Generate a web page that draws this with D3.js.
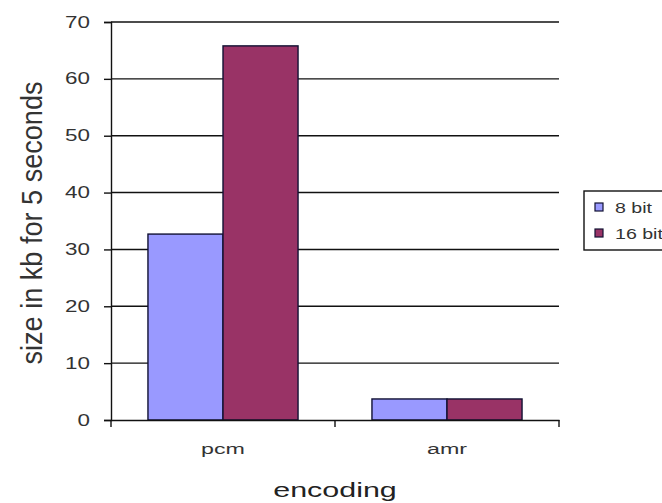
<!DOCTYPE html>
<html>
<head>
<meta charset="utf-8">
<script src="https://d3js.org/d3.v7.min.js"></script>
<style>
  body { margin: 0; background: #fff; }
  text { font-family: "Liberation Sans", Arial, sans-serif; fill: #333; }
</style>
</head>
<body>
<div id="chart"></div>
<script>
// chart data
var categories = ["pcm", "amr"];
var seriesNames = ["8 bit", "16 bit"];
var bits8 = [32.7, 3.7];
var bits16 = [65.8, 3.7];
var yTicks = [0, 10, 20, 30, 40, 50, 60, 70];
var colors = ["#9999ff", "#993366"];

var svgWidth = 662;
var svgHeight = 503;

// the text in the original looks stretched sideways
var stretch = 1.4;

var margin = { top: 22, right: 103, bottom: 83, left: 111 };
var width = svgWidth - margin.left - margin.right;
var height = svgHeight - margin.top - margin.bottom;

var svg = d3.select("#chart")
  .append("svg")
  .attr("width", svgWidth)
  .attr("height", svgHeight);

var chartGroup = svg.append("g")
  .attr("transform", `translate(${margin.left}, ${margin.top})`);

var xScale = d3.scaleBand()
  .domain(categories)
  .range([0, width])
  .paddingInner(0.33)
  .paddingOuter(0.165);

var subScale = d3.scaleBand()
  .domain(seriesNames)
  .range([0, xScale.bandwidth()]);

var yScale = d3.scaleLinear()
  .domain([0, 70])
  .range([height, 0]);

// gridlines
chartGroup.append("g")
  .selectAll("line")
  .data(yTicks.slice(1))
  .enter()
  .append("line")
  .attr("x1", 0)
  .attr("x2", width)
  .attr("y1", d => yScale(d))
  .attr("y2", d => yScale(d))
  .attr("stroke", "#111")
  .attr("stroke-width", 1.4);

// bars
var data = categories.map((c, i) => ({ cat: c, values: [bits8[i], bits16[i]] }));

var groups = chartGroup.selectAll(".grp")
  .data(data)
  .enter()
  .append("g")
  .attr("transform", d => `translate(${xScale(d.cat)}, 0)`);

groups.selectAll("rect")
  .data(d => d.values.map((v, j) => ({ name: seriesNames[j], value: v, idx: j })))
  .enter()
  .append("rect")
  .attr("x", d => subScale(d.name))
  .attr("y", d => yScale(d.value))
  .attr("width", subScale.bandwidth())
  .attr("height", d => height - yScale(d.value))
  .attr("fill", d => colors[d.idx])
  .attr("stroke", "#111133")
  .attr("stroke-width", 1.4);

// y axis
var leftAxis = d3.axisLeft(yScale)
  .tickValues(yTicks)
  .tickSize(7)
  .tickFormat(d3.format("d"));

var yAxis = chartGroup.append("g").call(leftAxis);
yAxis.select(".domain").attr("stroke", "#111").attr("stroke-width", 1.4);
yAxis.selectAll(".tick line").attr("stroke", "#111").attr("stroke-width", 1.4);
yAxis.selectAll("text")
  .attr("x", -21 / stretch)
  .attr("transform", `scale(${stretch}, 1)`)
  .style("font-size", "16px")
  .style("fill", "#333")
  .style("font-family", "Liberation Sans, Arial, sans-serif");

// x axis
var bottomAxis = d3.axisBottom(xScale)
  .tickSize(0);

var xAxis = chartGroup.append("g")
  .attr("transform", `translate(0, ${height})`)
  .call(bottomAxis);
xAxis.select(".domain").attr("stroke", "#111").attr("stroke-width", 1.4);
xAxis.selectAll("text")
  .attr("dy", null)
  .attr("y", 34)
  .attr("transform", `scale(${stretch + 0.15}, 1)`)
  .style("font-size", "15px")
  .style("fill", "#333")
  .style("font-family", "Liberation Sans, Arial, sans-serif");

// category boundary ticks
var bounds = [0, (xScale(categories[0]) + xScale.bandwidth() + xScale(categories[1])) / 2, width];
xAxis.selectAll(".bound")
  .data(bounds)
  .enter()
  .append("line")
  .attr("x1", d => d)
  .attr("x2", d => d)
  .attr("y1", 0)
  .attr("y2", 7)
  .attr("stroke", "#111")
  .attr("stroke-width", 1.4);

// axis titles
svg.append("text")
  .attr("transform", `translate(${margin.left + width / 2}, 497) scale(1.45, 1)`)
  .attr("text-anchor", "middle")
  .style("font-size", "21px")
  .style("fill", "#222")
  .text("encoding");

svg.append("text")
  .attr("transform", "translate(42, 223) rotate(-90) scale(1, 1.3)")
  .attr("text-anchor", "middle")
  .attr("textLength", 283)
  .attr("lengthAdjust", "spacingAndGlyphs")
  .style("font-size", "23px")
  .text("size in kb for 5 seconds");

// legend
var legend = svg.append("g")
  .attr("transform", "translate(584, 191)");

legend.append("rect")
  .attr("width", 90)
  .attr("height", 59)
  .attr("fill", "#fff")
  .attr("stroke", "#111")
  .attr("stroke-width", 1.4);

var items = legend.selectAll(".item")
  .data(seriesNames)
  .enter()
  .append("g")
  .attr("transform", (d, i) => `translate(11, ${12 + i * 26})`);

items.append("rect")
  .attr("width", 8)
  .attr("height", 8)
  .attr("fill", (d, i) => colors[i])
  .attr("stroke", "#111133")
  .attr("stroke-width", 1.2);

items.append("text")
  .attr("transform", `translate(20, 10) scale(${stretch}, 1)`)
  .style("font-size", "14px")
  .text(d => d);
</script>
</body>
</html>
